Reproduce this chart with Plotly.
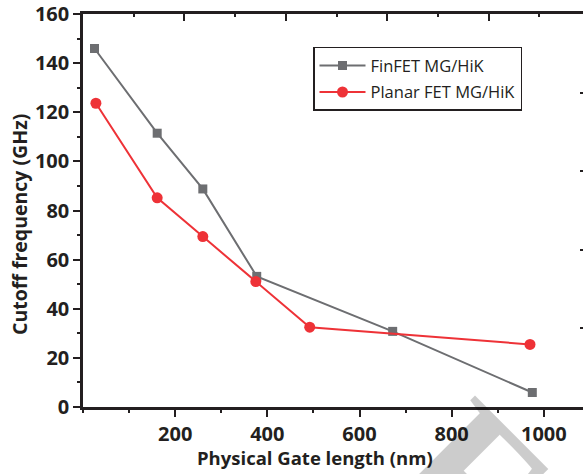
import plotly.graph_objects as go

# Data
finfet_x = [25, 161, 260, 377, 672, 975]
finfet_y = [146, 111.5, 88.8, 53.2, 30.8, 5.9]
planar_x = [28, 161, 260, 375, 492, 970]
planar_y = [123.7, 85.2, 69.4, 51.1, 32.5, 25.5]
x_ticks = [200, 400, 600, 800, 1000]
y_ticks = [0, 20, 40, 60, 80, 100, 120, 140, 160]

AX = "#231f20"
GRAY = "#6d6e71"
RED = "#ee3237"
FONT = "Open Sans"

fig = go.Figure()
fig.add_trace(go.Scatter(
    x=finfet_x, y=finfet_y, mode="lines+markers", name="FinFET MG/HiK",
    line=dict(color=GRAY, width=2), marker=dict(symbol="square", size=9, color=GRAY),
    legendgroup="a"))
fig.add_trace(go.Scatter(
    x=planar_x, y=planar_y, mode="lines+markers", name="Planar FET MG/HiK",
    line=dict(color=RED, width=2), marker=dict(symbol="circle", size=11, color=RED),
    legendgroup="b"))
# empty trace to activate the mirrored frame axes (top / right)
fig.add_trace(go.Scatter(x=[], y=[], xaxis="x2", yaxis="y2", showlegend=False, hoverinfo="skip"))

tickfont = dict(family=FONT, size=20, color=AX, weight="bold")

fig.update_layout(
    width=583, height=474,
    margin=dict(l=83, r=0, t=12, b=67),
    paper_bgcolor="white", plot_bgcolor="white",
    showlegend=True,
    legend=dict(x=0.46, y=0.9165, xanchor="left", yanchor="top",
                bordercolor=AX, borderwidth=1.5, bgcolor="white",
                font=dict(family=FONT, size=16.5, color=AX),
                tracegroupgap=2, itemwidth=46),
    xaxis=dict(range=[0, 1085], tickvals=x_ticks, ticks="outside", ticklen=7, tickwidth=2,
               tickcolor=AX, showline=True, linewidth=2.5, linecolor=AX,
               showgrid=False, zeroline=False, tickfont=tickfont, ticklabeloverflow="allow",
               minor=dict(ticks="outside", ticklen=3, tickwidth=2, tickcolor=AX, dtick=100, tick0=0,
                          showgrid=False)),
    yaxis=dict(range=[0, 160.05], tickvals=y_ticks, ticks="outside", ticklen=7, tickwidth=2,
               tickcolor=AX, showline=True, linewidth=2.5, linecolor=AX,
               showgrid=False, zeroline=False, tickfont=tickfont, ticklabeloverflow="allow",
               minor=dict(ticks="outside", ticklen=3, tickwidth=2, tickcolor=AX, dtick=10, tick0=0,
                          showgrid=False)),
    xaxis2=dict(overlaying="x", side="top", anchor="y", range=[0, 5 * 500 / 507],
                dtick=1, tick0=0, ticks="inside", ticklen=7, tickwidth=2, tickcolor=AX,
                showline=True, linewidth=2.5, linecolor=AX, showticklabels=False,
                showgrid=False, zeroline=False,
                minor=dict(ticks="inside", ticklen=3, tickwidth=2, tickcolor=AX, dtick=0.5, tick0=0,
                           showgrid=False)),
    yaxis2=dict(overlaying="y", side="right", anchor="x", range=[0, 5],
                dtick=1, tick0=0, ticks="inside", ticklen=3, tickwidth=2, tickcolor=AX,
                showline=False, showticklabels=False, showgrid=False, zeroline=False),
)

fig.add_annotation(text="Physical Gate length (nm)", xref="paper", yref="paper",
                   x=0.464, y=-0.129, xanchor="center", yanchor="middle", showarrow=False,
                   font=dict(family=FONT, size=18.5, color=AX, weight="bold"))
fig.add_annotation(text="Cutoff frequency (GHz)", xref="paper", yref="paper",
                   x=-0.128, y=0.463, xanchor="center", yanchor="middle", showarrow=False,
                   textangle=-90,
                   font=dict(family=FONT, size=19.5, color=AX, weight="bold"))
# light watermark letter
fig.add_annotation(text="F", xref="paper", yref="paper", x=0.776, y=-0.178,
                   xanchor="center", yanchor="middle", showarrow=False, textangle=45,
                   font=dict(family="Liberation Serif", size=190, color="rgba(0,0,0,0.2)", weight="bold"))

fig.write_html("out.html")
